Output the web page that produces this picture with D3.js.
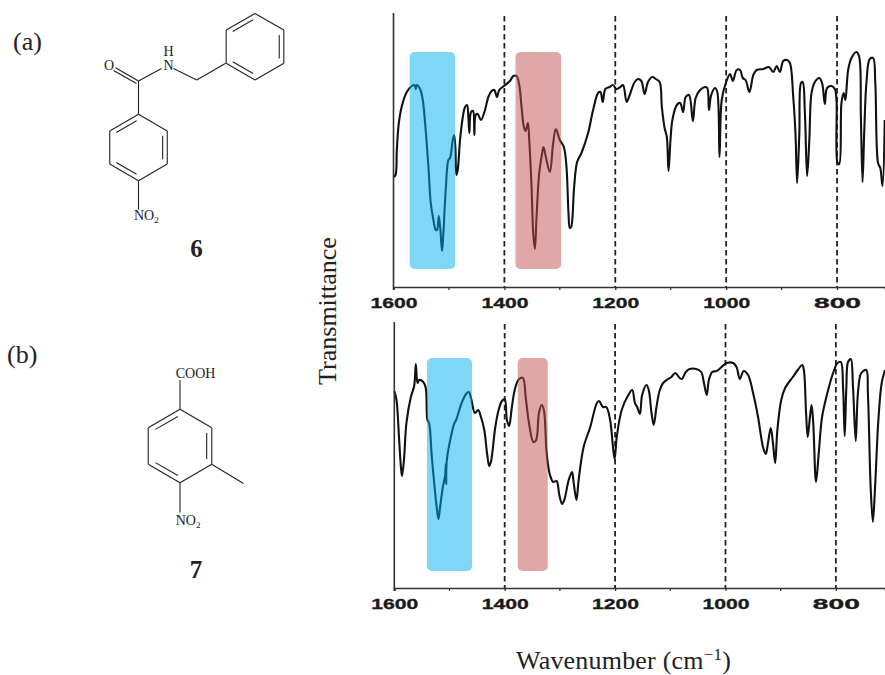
<!DOCTYPE html>
<html>
<head>
<meta charset="utf-8">
<script src="https://cdn.jsdelivr.net/npm/d3@7"></script>
<style>
html,body{margin:0;padding:0;background:#fff;overflow:hidden}
svg{display:block}
.serif{font-family:"Liberation Serif",serif;fill:#222}
</style>
</head>
<body>
<svg id="chart" width="885" height="675"></svg>
<script>
// spectrum 6 (top panel)
var waveA = [1600,1596.4,1594,1590.4,1584.4,1576,1567,1562.2,1559.8,1558,1552,1547.2,1543,1537,1532.8,1528,1523.8,1521.4,1518.4,1515.4,1512.4,1510,1505.8,1501,1498,1493.2,1490.8,1488.4,1486.6,1484.2,1480,1475.8,1471,1467.4,1465,1463.2,1460.2,1456.6,1454.2,1451.8,1448.2,1442.2,1435,1429,1423,1418.2,1413.4,1409.2,1400.8,1390,1384,1378,1373.2,1369,1364.8,1361.8,1357.6,1355.2,1351,1348,1345,1342,1337.2,1333,1329.4,1325.2,1318,1312,1307.2,1300,1292.8,1288,1284.4,1282,1279.6,1274.2,1268.8,1261,1249,1240,1231,1226.8,1222.6,1217.8,1210,1204,1198,1190.8,1186,1179.4,1174,1165,1159,1153,1147,1141,1133,1127,1120,1116,1111,1107,1104,1100.4,1097,1089,1083,1077.6,1073,1067,1060,1055,1047,1038,1034,1031,1027,1020,1016,1012,1008,1000,993,988,981,975,970,965,958,951,945,933,923,915,909,903,897,890,885,879,875,872,868,865,862,858,854,850,846,840,832,827,822,818,810,804,801,799,796,792,788,785,780,774,765,760,757,754,751,747,741,735,731,726,722,718,714];
var transA = [110,112,137,164,182,195,201,202,198,202,198,187,164,120,84,67,57,57,71,57,36,54,97,127,129,147,152,140,112,117,147,167,180,182,170,154,175,176,152,172,173,167,177,190,196,197,190,197,201,206,211,211,202,180,160,156,164,147,100,54,38,70,114,130,140,130,115,144,158,147,140,120,74,59,60,100,125,134,154,177,194,195,185,198,200,202,198,200,202,185,192,205,208,206,193,205,210,208,205,180,159,150,116,147,167,182,184,175,190,192,166,189,197,200,199,177,192,199,195,130,187,205,213,206,217,217,209,207,195,212,217,218,220,215,221,215,226,227,224,190,154,104,154,204,205,174,111,147,194,205,209,204,183,199,201,198,187,124,123,184,194,187,217,229,235,230,170,105,154,204,228,229,204,124,119,101,167];

// spectrum 7 (bottom panel)
var waveB = [1600,1596,1591.5,1588,1586,1582.5,1578,1570,1564,1561,1558,1555,1547.5,1543,1540,1537,1532,1526,1523,1520,1517,1512,1508,1506.5,1506,1505,1496,1491,1488,1478,1470,1465,1461,1454,1448,1443,1437,1432,1428,1425,1417,1411,1405,1400,1396,1392,1387,1381,1374,1367,1362,1356,1348,1343,1338,1333,1329,1324,1318,1312,1306,1301,1296,1292,1284,1278,1275,1270,1266,1257,1245,1233,1229,1222,1216,1209,1201,1197,1188,1176,1169,1164,1160,1155,1151,1143,1139,1134,1130,1125,1119,1113,1104,1098,1091,1083,1079,1072,1065,1053,1044,1039,1034,1030,1024,1016,1007,998,986,980,974,967,959,950,941,932,927,923,918,914,910,906,899,892,878,869,861,858,854,851,847,844,841,836,831,825,814,805,797,791,787,784,781,778,773,769,764,760,754,745,742,737,733,729,723,717,711];
var transB = [197,188,151,121,112,128,165,191,202,224,205,208,206,200,168,165,131,95,80,69,81,101,112,124,104,127,155,165,168,185,194,196,190,175,178,171,158,135,122,126,161,178,187,189,168,162,181,200,209,210,191,165,146,148,175,183,178,135,113,106,107,93,84,88,108,116,105,88,108,141,161,185,187,181,181,168,129,151,178,193,198,185,181,174,193,203,198,175,163,181,198,205,209,211,215,210,209,216,219,219,216,205,193,208,216,217,221,225,225,221,209,217,213,195,171,141,134,145,160,145,125,158,188,200,211,218,223,218,175,151,171,183,165,106,135,171,198,215,225,226,201,152,201,226,229,201,147,195,215,218,195,101,66,101,168,205,218];

var majorTicks = [1600,1400,1200,1000,800];
var minorTicks = [1500,1300,1100,900];
var dashedTicks = [1400,1200,1000,800];
var bandsA = [[1570.8,1488.6,'#00B0F0'],[1380,1297.6,'#C0504D']];
var bandsB = [[1540.8,1459.2,'#00B0F0'],[1376.4,1322,'#C0504D']];

var svg = d3.select('#chart');

function drawPanel(o){
  var x = d3.scaleLinear().domain(o.xDomain).range([o.left,885]);
  var y = d3.scaleLinear().domain(o.yDomain).range([o.bottom,o.top]);
  var g = svg.append('g');

  g.selectAll('.grid').data(dashedTicks).enter().append('line')
    .attr('x1',function(d){return x(d)}).attr('x2',function(d){return x(d)})
    .attr('y1',o.dashTop).attr('y2',o.bottom)
    .attr('stroke','#222').attr('stroke-width',1.8).attr('stroke-dasharray','5.5,3.5');

  var line = d3.line()
    .x(function(d){return x(d[0])})
    .y(function(d){return y(d[1])})
    .curve(d3.curveCatmullRom.alpha(0.5));
  g.append('path')
    .datum(d3.zip(o.wave,o.trans))
    .attr('d',line)
    .attr('fill','none').attr('stroke','#111').attr('stroke-width',2.1).attr('stroke-linejoin','round');

  // highlight bands sit on top of the trace
  g.selectAll('.band').data(o.bands).enter().append('rect')
    .attr('x',function(d){return x(d[0])})
    .attr('width',function(d){return x(d[1])-x(d[0])})
    .attr('y',y(o.bandTop))
    .attr('height',y(o.bandBottom)-y(o.bandTop))
    .attr('rx',5)
    .attr('fill',function(d){return d[2]})
    .attr('fill-opacity',0.5);

  var axis = g.append('g').attr('transform','translate(0,'+o.bottom+')')
    .call(d3.axisBottom(x).tickValues(majorTicks).tickFormat(d3.format('d')).tickSizeOuter(0).tickSize(3).tickPadding(7));
  axis.select('.domain').attr('stroke','#333').attr('stroke-width',1.6);
  axis.selectAll('.tick line').attr('stroke','#333').attr('stroke-width',1.3);
  axis.selectAll('text')
    .attr('font-family','"Liberation Sans",sans-serif').attr('font-size',15.5).attr('font-weight','bold')
    .attr('fill','#1a1a1a').attr('stroke','#1a1a1a').attr('stroke-width',0.35)
    .attr('textLength',47).attr('lengthAdjust','spacingAndGlyphs');

  g.append('g').attr('transform','translate(0,'+o.bottom+')')
    .selectAll('line').data(minorTicks).enter().append('line')
    .attr('x1',function(d){return x(d)}).attr('x2',function(d){return x(d)})
    .attr('y1',0).attr('y2',3).attr('stroke','#333').attr('stroke-width',1.2);

  g.append('line')
    .attr('x1',o.left).attr('x2',o.left).attr('y1',o.top).attr('y2',o.bottom+3)
    .attr('stroke','#333').attr('stroke-width',1.6);
}

drawPanel({wave:waveA,trans:transA,bands:bandsA,xDomain:[1600,713.5],yDomain:[0,274],
  left:393.5,top:13,bottom:287,dashTop:16,bandTop:235,bandBottom:18});
drawPanel({wave:waveB,trans:transB,bands:bandsB,xDomain:[1600,711],yDomain:[0,266],
  left:394.3,top:322,bottom:588,dashTop:324,bandTop:230,bandBottom:17});

function label(t,x,y,size,bold,anchor){
  return svg.append('text').attr('class','serif').attr('x',x).attr('y',y)
    .attr('font-size',size).attr('font-weight',bold?'bold':'normal')
    .attr('text-anchor',anchor||'start').text(t);
}

label('(a)',13,50,26);
label('(b)',7,363,26);
label('6',196.5,257,25,true,'middle');
label('7',196,578,25,true,'middle');

svg.append('text').attr('class','serif')
  .attr('transform','translate(336,311) rotate(-90)')
  .attr('text-anchor','middle').attr('font-size',26).text('Transmittance');

var xTitle = svg.append('text').attr('class','serif').attr('x',516).attr('y',669).attr('font-size',26).attr('letter-spacing',0.2);
xTitle.append('tspan').text('Wavenumber (cm');
xTitle.append('tspan').attr('dy',-9).attr('font-size',17).text('\u22121');
xTitle.append('tspan').attr('dy',9).text(')');

// structure drawings
function bond(x1,y1,x2,y2){
  svg.append('line').attr('x1',x1).attr('y1',y1).attr('x2',x2).attr('y2',y2)
    .attr('stroke','#222').attr('stroke-width',1.1);
}
function ring(cx,cy,r){
  var pts = d3.range(6).map(function(i){
    var a = Math.PI/3*i - Math.PI/2;
    return [cx+r*Math.cos(a),cy+r*Math.sin(a)];
  });
  pts.forEach(function(p,i){
    var q = pts[(i+1)%6];
    bond(p[0],p[1],q[0],q[1]);
  });
  // inner double bonds: upper left, right, lower left
  [[5,0],[1,2],[3,4]].forEach(function(e){
    var a = pts[e[0]], b = pts[e[1]], s = 0.84, t = 0.08;
    var ax = cx+(a[0]-cx)*s, ay = cy+(a[1]-cy)*s, bx = cx+(b[0]-cx)*s, by = cy+(b[1]-cy)*s;
    bond(ax+(bx-ax)*t,ay+(by-ay)*t,bx-(bx-ax)*t,by-(by-ay)*t);
  });
  return pts;
}
function nitro(x,y){
  var t = svg.append('text').attr('class','serif').attr('x',x).attr('y',y).attr('font-size',14);
  t.append('tspan').text('NO');
  t.append('tspan').attr('dy',3).attr('font-size',9).text('2');
}

// compound 6
ring(255,46.7,33.3);
ring(138.5,147.5,33.2);
bond(225.7,63.3,196.7,80);
bond(196.7,80,173.5,68.5);
bond(161.5,68.5,138.5,81);
bond(138.5,81,115.5,67.7);
bond(136.5,83.5,113.5,70.5);
bond(138.5,81,138.5,114.3);
bond(138.5,180.7,138.5,209.5);
label('H',168.5,56,14,false,'middle');
label('N',168.5,69.5,14,false,'middle');
label('O',109,70,14,false,'middle');
nitro(134,220);

// compound 7
ring(180,446,36.7);
bond(180,409.3,180,380);
bond(211.7,464.3,243.5,483.5);
bond(180,482.7,180,512.5);
label('COOH',175.7,377.5,14);
nitro(175.7,525);
</script>
</body>
</html>
